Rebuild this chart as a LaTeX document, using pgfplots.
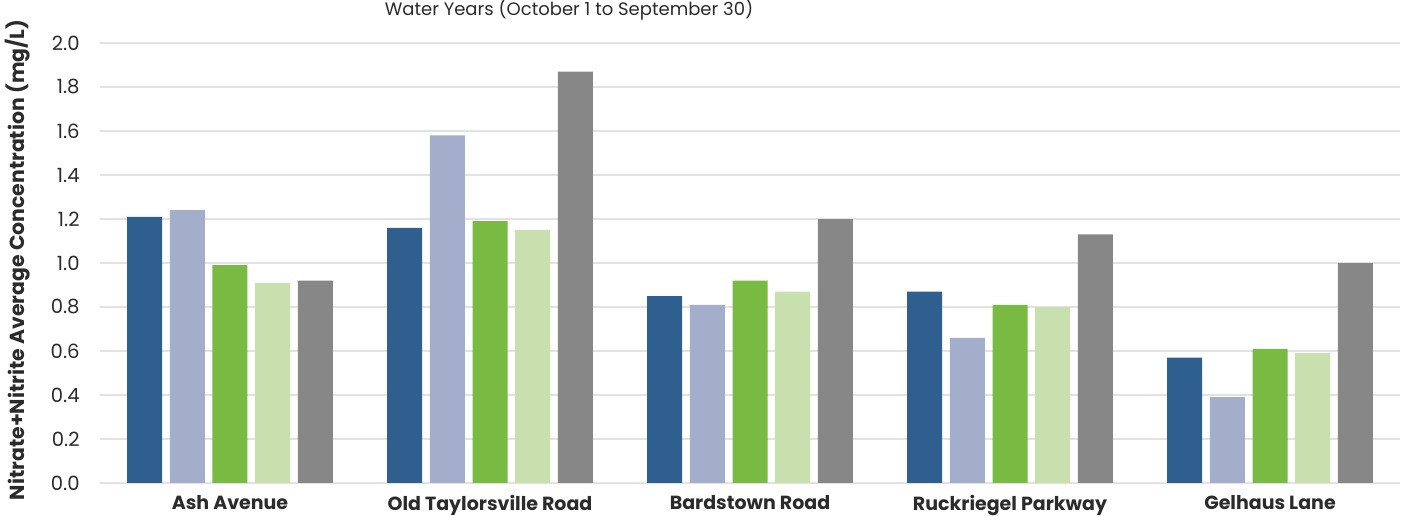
\documentclass[border=0pt]{standalone}
\usepackage{pgfplots}
\pgfplotsset{compat=1.18}
\usepackage{fontspec}
\setmainfont{Poppins}

\definecolor{cA}{HTML}{2F5F8F}
\definecolor{cB}{HTML}{A3AECB}
\definecolor{cC}{HTML}{79BA43}
\definecolor{cD}{HTML}{C8DFAE}
\definecolor{cE}{HTML}{878787}
\definecolor{txt}{HTML}{2B2B2B}
\definecolor{grd}{HTML}{E2E2E2}

\begin{document}
\begin{tikzpicture}
\path[use as bounding box] (-50bp,-16.5bp) rectangle (656.5bp,241.5bp);
\begin{axis}[
    at={(0,0)}, anchor=south west,
    scale only axis,
    width=650bp, height=220bp,
    xmin=-0.5, xmax=4.5,
    ymin=0, ymax=2,
    ybar=3.85bp, bar width=17.5bp,
    axis line style={draw=none},
    major tick length=0pt,
    ymajorgrids, grid style={grd, line width=0.8pt},
    ytick={0,0.2,...,2.0},
    yticklabel style={/pgf/number format/fixed, /pgf/number format/fixed zerofill,
        /pgf/number format/precision=1, anchor=east, inner sep=0pt, xshift=-10bp,
        font=\fontsize{9.8bp}{11bp}\selectfont, text=txt},
    /pgf/number format/assume math mode=true,
    xtick=data,
    xticklabels={Ash Avenue, Old Taylorsville Road, Bardstown Road, Ruckriegel Parkway, Gelhaus Lane},
    xticklabel style={anchor=north, inner sep=0pt, yshift=-6bp,
        font=\fontsize{9.5bp}{11bp}\selectfont\bfseries, text=txt},
    ylabel={Nitrate+Nitrite Average Concentration (mg/L)},
    ylabel style={at={(axis description cs:-0.0631,0.507)}, anchor=center, inner sep=0pt,
        font=\fontsize{10.2bp}{11bp}\selectfont\bfseries, text=txt},
    clip=false,
]
\addplot[fill=cA, draw=none] coordinates {(0,1.21) (1,1.16) (2,0.85) (3,0.87) (4,0.57)};
\addplot[fill=cB, draw=none] coordinates {(0,1.24) (1,1.58) (2,0.81) (3,0.66) (4,0.39)};
\addplot[fill=cC, draw=none] coordinates {(0,0.99) (1,1.19) (2,0.92) (3,0.81) (4,0.61)};
\addplot[fill=cD, draw=none] coordinates {(0,0.91) (1,1.15) (2,0.87) (3,0.80) (4,0.59)};
\addplot[fill=cE, draw=none] coordinates {(0,0.92) (1,1.87) (2,1.20) (3,1.13) (4,1.00)};
\node[anchor=base, inner sep=0pt, font=\fontsize{9bp}{10bp}\selectfont, text=txt]
    at (rel axis cs:0.3608,1.0636) {Water Years (October 1 to September 30)};
\end{axis}
\end{tikzpicture}
\end{document}
